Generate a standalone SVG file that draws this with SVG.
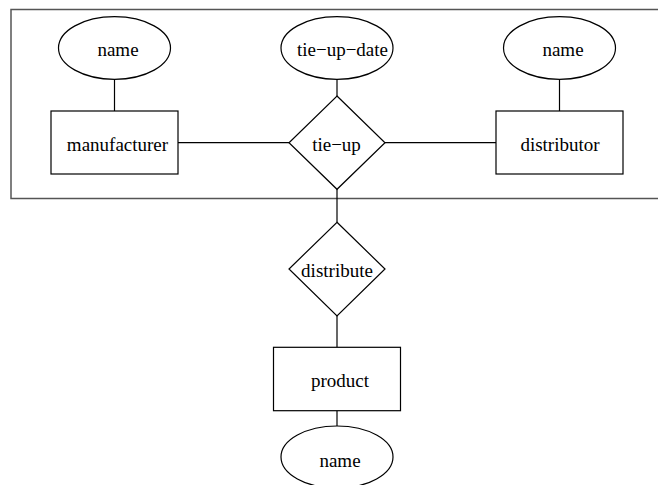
<svg xmlns="http://www.w3.org/2000/svg" width="658" height="485" viewBox="0 0 658 485">
<style>
.s{fill:#fff;stroke:#000;stroke-width:1.2}
.c line{stroke:#000;stroke-width:1.2}
text{font-family:"Liberation Serif","Times New Roman",serif;font-size:19px;fill:#000;text-anchor:middle}
</style>
<rect x="0" y="0" width="658" height="485" fill="#fff"/>
<rect id="cluster" x="11" y="9.5" width="660" height="189" fill="none" stroke="#555" stroke-width="1.5"/>
<g id="connectors" class="c">
<line x1="114.5" y1="79" x2="114.5" y2="111"/>
<line x1="337" y1="79" x2="337" y2="96"/>
<line x1="559.5" y1="79" x2="559.5" y2="111"/>
<line x1="178" y1="142.7" x2="289" y2="142.7"/>
<line x1="385" y1="142.7" x2="496" y2="142.7"/>
<line x1="337" y1="189" x2="337" y2="222"/>
<line x1="337" y1="316" x2="337" y2="347"/>
<line x1="337" y1="410.7" x2="337" y2="426"/>
</g>
<g id="manufacturer_name"><ellipse class="s" cx="114.5" cy="48" rx="56" ry="31.3"/><text x="118" y="56">name</text></g>
<g id="tie_up_date"><ellipse class="s" cx="337" cy="48" rx="56" ry="31.3"/><text x="342.5" y="56">tie−up−date</text></g>
<g id="distributor_name"><ellipse class="s" cx="559.5" cy="48" rx="56" ry="31.3"/><text x="563" y="56">name</text></g>
<g id="manufacturer"><rect class="s" x="51" y="111" width="127" height="63"/><text x="117.5" y="150.5">manufacturer</text></g>
<g id="tie_up"><polygon class="s" points="337,96 385,142.7 337,189.3 289,142.7"/><text x="336.5" y="150.5">tie−up</text></g>
<g id="distributor"><rect class="s" x="496" y="111" width="127" height="63"/><text x="560" y="150.5">distributor</text></g>
<g id="distribute"><polygon class="s" points="337,222.3 385,269 337,316 289,269"/><text x="337" y="277">distribute</text></g>
<g id="product"><rect class="s" x="273.5" y="347.3" width="127" height="63.4"/><text x="340" y="387">product</text></g>
<g id="product_name"><ellipse class="s" cx="337" cy="457" rx="56" ry="31"/><text x="340" y="467">name</text></g>
</svg>
